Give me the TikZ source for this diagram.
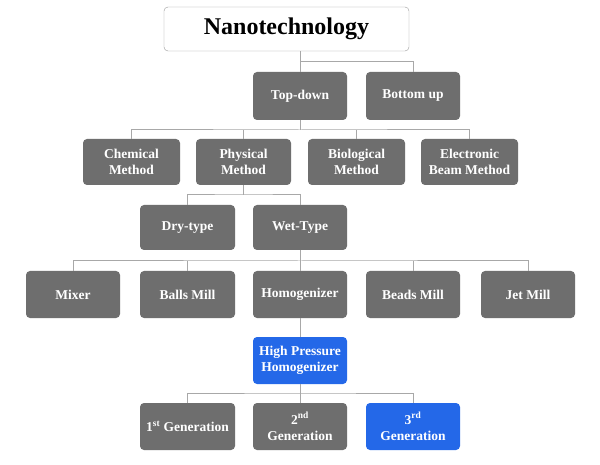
\documentclass[tikz,border=0pt]{standalone}
\usepackage{fontspec}
\setmainfont{Liberation Serif}
\begin{document}
\begin{tikzpicture}[x=1pt,y=-1pt,
  box/.style={draw=none,fill=boxgray,rounded corners=4pt,text=white,font=\bfseries\fontsize{13.5}{16.5}\selectfont,align=center,inner sep=0pt},
  blue/.style={box,fill=boxblue},
  ln/.style={draw=linegray,line width=1pt}]
\definecolor{boxgray}{HTML}{6E6E6E}
\definecolor{boxblue}{HTML}{2468E8}
\definecolor{linegray}{HTML}{A8A8A8}
\useasboundingbox (0,0) rectangle (600,465);
\fill[white] (0,0) rectangle (600,465);
\newcommand{\bx}[6][box]{\node[#1,minimum width=#4,minimum height=#5] (#2) at (#3) {#6};}
\node[draw=gray!80,rounded corners=4pt,fill=white,minimum width=245,minimum height=44,font=\bfseries\fontsize{24}{26}\selectfont] (nano) at (286.5,29) {Nanotechnology};
\bx{td}{300,96}{94}{48}{Top-down}
\bx{bu}{413,96}{94}{48}{Bottom up}
\bx{chem}{131.5,162}{97}{46}{Chemical\\Method}
\bx{phys}{243.5,162}{95}{46}{Physical\\Method}
\bx{bio}{356.5,162}{97}{46}{Biological\\Method}
\bx{ebm}{469.5,162}{97}{46}{Electronic\\Beam Method}
\bx{dry}{187.5,227.5}{95}{45}{Dry-type}
\bx{wet}{300,227.5}{94}{45}{Wet-Type}
\bx{mix}{73,294.5}{94}{47}{Mixer}
\bx{ball}{187.5,294.5}{95}{47}{Balls Mill}
\bx{homo}{300,294.5}{94}{47}{Homogenizer}
\bx{bead}{413,294.5}{94}{47}{Beads Mill}
\bx{jet}{528,294.5}{94}{47}{Jet Mill}
\bx[blue]{hph}{300,360.5}{94}{47}{High Pressure\\Homogenizer}
\bx{g1}{187.5,426.5}{95}{47}{1\textsuperscript{st} Generation}
\bx{g2}{300,426.5}{94}{47}{2\textsuperscript{nd}\\Generation}
\bx[blue]{g3}{413,426.5}{94}{47}{3\textsuperscript{rd}\\Generation}
\draw[ln] (nano.south -| td) -- (td.north);
\draw[ln] (300,62) -| (bu.north);
\draw[ln] (td.south) -- (300,130);
\draw[ln] (chem.north) |- (300,130) -| (ebm.north);
\draw[ln] (phys.north) -- (phys.north |- 0,130);
\draw[ln] (bio.north) -- (bio.north |- 0,130);
\draw[ln] (phys.south) -- (243.5,195);
\draw[ln] (dry.north) |- (243.5,195) -| (wet.north);
\draw[ln] (wet.south) -- (homo.north);
\draw[ln] (mix.north) |- (300,261) -| (jet.north);
\draw[ln] (ball.north) -- (ball.north |- 0,261);
\draw[ln] (bead.north) -- (bead.north |- 0,261);
\draw[ln] (homo.south) -- (hph.north);
\draw[ln] (hph.south) -- (g2.north);
\draw[ln] (g1.north) |- (300,393) -| (g3.north);
\end{tikzpicture}
\end{document}
